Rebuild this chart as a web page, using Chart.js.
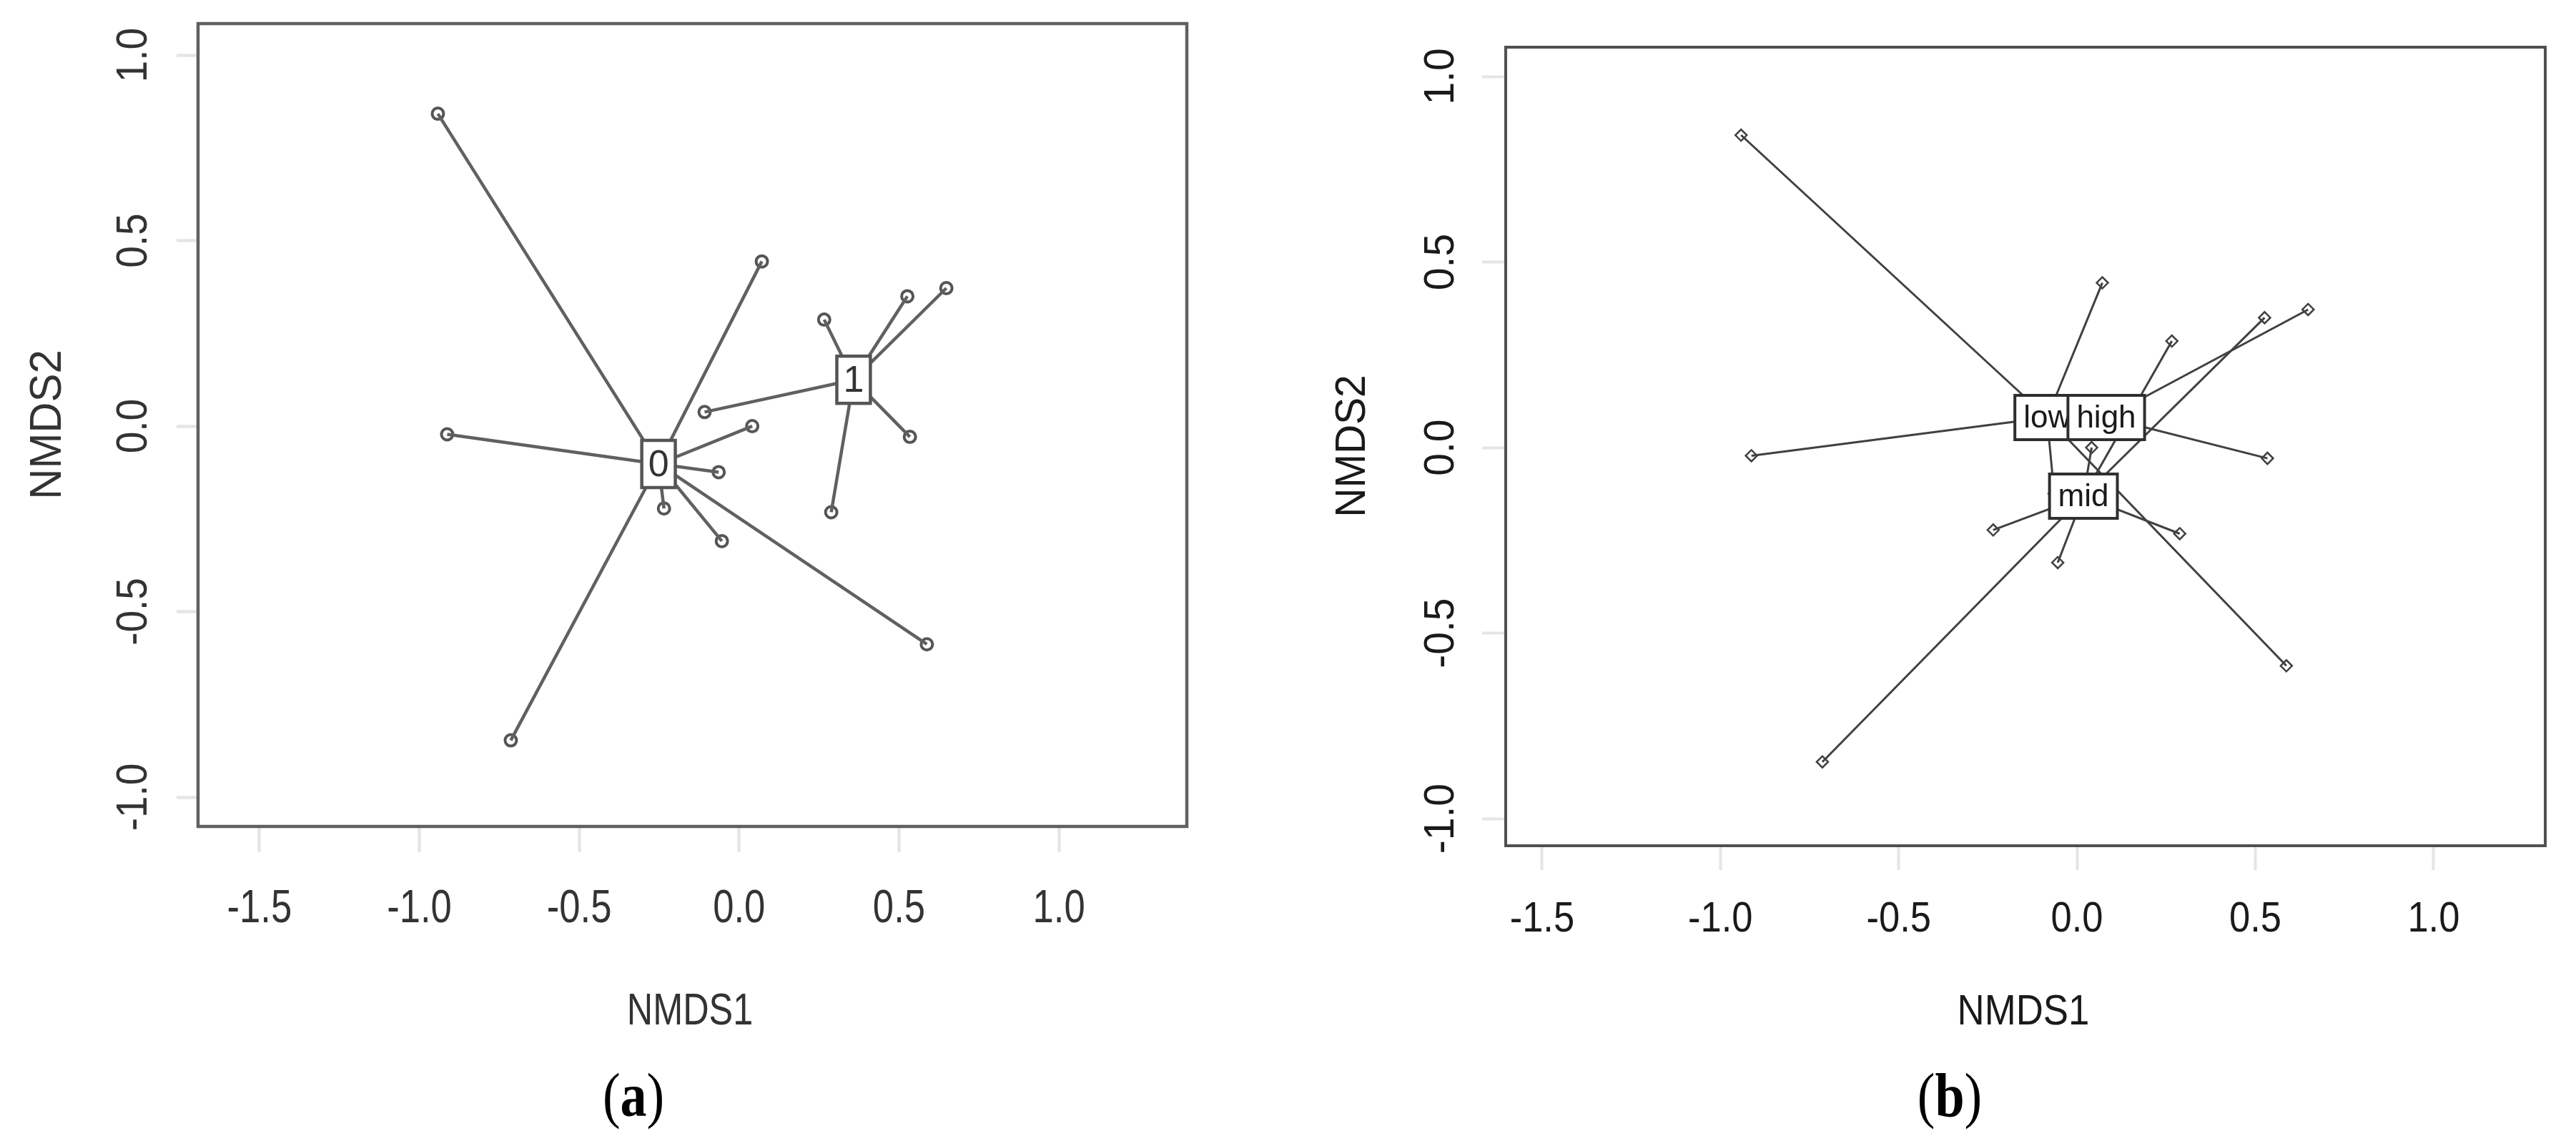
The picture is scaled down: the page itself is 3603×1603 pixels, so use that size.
<!DOCTYPE html>
<html>
<head>
<meta charset="utf-8">
<script src="https://cdn.jsdelivr.net/npm/chart.js@4.4.1/dist/chart.umd.min.js"></script>
<style>
  body { margin: 0; background: #fff; width: 3603px; height: 1603px; position: relative; overflow: hidden; }
  .panel { position: absolute; top: 0; height: 1603px; }
  #wrapA { left: 0; width: 1800px; }
  #wrapB { left: 1800px; width: 1803px; }
  .tag {
    position: absolute; font-family: 'Liberation Serif', 'Times New Roman', serif; font-size: 86px;
    color: #000; transform: translate(-50%, -50%) scaleX(0.86); white-space: nowrap; line-height: 1;
  }
</style>
</head>
<body>
<div class="panel" id="wrapA"><canvas id="chartA"></canvas></div>
<div class="panel" id="wrapB"><canvas id="chartB"></canvas></div>
<div class="tag" style="left:886px;top:1532px">(<b>a</b>)</div>
<div class="tag" style="left:2727px;top:1532px">(<b>b</b>)</div>
<script>
// NMDS site scores (same ordination in both panels)
const siteX = [-0.942, 0.071, -0.913, 0.041, -0.064, -0.235, -0.054, 0.587, -0.714, -0.108, 0.266, 0.526, 0.648, 0.534, 0.288];
const siteY = [0.842, 0.444, -0.022, 0.000, -0.124, -0.222, -0.310, -0.588, -0.847, 0.038, 0.287, 0.350, 0.372, -0.029, -0.232];

// panel (a): two groups
const groupA = ['0', '0', '0', '0', '0', '0', '0', '0', '0', '1', '1', '1', '1', '1', '1'];
const centLabelA = ['0', '1'];
const centXA = [-0.252, 0.358];
const centYA = [-0.102, 0.125];

// panel (b): three levels
const groupB = ['low', 'low', 'low', 'mid', 'low', 'mid', 'mid', 'low', 'mid', 'high', 'mid', 'mid', 'high', 'high', 'mid'];
const centLabelB = ['low', 'high', 'mid'];
const centXB = [-0.084, 0.082, 0.018];
const centYB = [0.081, 0.081, -0.131];

const xTicks = [-1.5, -1.0, -0.5, 0.0, 0.5, 1.0];
const yTicks = [-1.0, -0.5, 0.0, 0.5, 1.0];
const xTitle = 'NMDS1';
const yTitle = 'NMDS2';

const FONT = "'Liberation Sans', Arial, sans-serif";

// text drawn centred on (x, y); sx squeezes it along its reading direction
function putText(ctx, str, x, y, size, sx, rotated) {
  ctx.save();
  ctx.translate(x, y);
  if (rotated) ctx.rotate(-Math.PI / 2);
  ctx.scale(sx, 1);
  ctx.font = size + 'px ' + FONT;
  ctx.textAlign = 'center';
  ctx.textBaseline = 'alphabetic';
  ctx.fillText(str, 0, 0.358 * size);
  ctx.restore();
}

// frame, tick labels, axis titles and centroid label boxes
const spiderDecor = {
  id: 'spiderDecor',
  afterDatasetsDraw(chart, args, o) {
    const ctx = chart.ctx;
    const xs = chart.scales.x, ys = chart.scales.y;
    ctx.save();
    ctx.font = o.boxFont + 'px ' + FONT;
    o.labels.forEach((lab, k) => {
      const px = xs.getPixelForValue(o.cx[k]);
      const py = ys.getPixelForValue(o.cy[k]);
      const w = ctx.measureText(lab).width + 2 * o.boxPadX;
      const h = o.boxH;
      ctx.fillStyle = '#fff';
      ctx.fillRect(px - w / 2, py - h / 2, w, h);
      ctx.strokeStyle = o.boxColor;
      ctx.lineWidth = o.boxLine;
      ctx.strokeRect(px - w / 2, py - h / 2, w, h);
      ctx.fillStyle = o.textColor;
      putText(ctx, lab, px, py - 2, o.boxFont, 1, false);
    });
    ctx.restore();
  },
  afterDraw(chart, args, o) {
    const ctx = chart.ctx;
    const a = chart.chartArea;
    const xs = chart.scales.x, ys = chart.scales.y;
    ctx.save();
    ctx.strokeStyle = o.axisColor;
    ctx.lineWidth = o.frameLine;
    ctx.strokeRect(a.left, a.top, a.right - a.left, a.bottom - a.top);

    ctx.fillStyle = o.textColor;
    xTicks.forEach(v => {
      putText(ctx, v.toFixed(1), xs.getPixelForValue(v), o.xLabelY, o.xTickFont, o.xTickSx, false);
    });
    yTicks.forEach(v => {
      putText(ctx, v.toFixed(1), o.yLabelX, ys.getPixelForValue(v), o.yTickFont, o.yTickSx, true);
    });
    putText(ctx, xTitle, o.xTitlePos[0], o.xTitlePos[1], o.titleFont, o.xTitleSx, false);
    putText(ctx, yTitle, o.yTitlePos[0], o.yTitlePos[1], o.titleFont, o.yTitleSx, true);
    ctx.restore();
  }
};

function spiderPlot(p) {
  const canvas = document.getElementById(p.canvas);
  canvas.width = p.w;
  canvas.height = p.h;

  const spokes = siteX.map((x, i) => {
    const k = p.labels.indexOf(p.groups[i]);
    return {
      data: [{ x: x, y: siteY[i] }, { x: p.cx[k], y: p.cy[k] }],
      showLine: true,
      pointRadius: 0,
      borderColor: p.lineColor,
      borderWidth: p.lineWidth,
      order: 1
    };
  });

  const sites = {
    data: siteX.map((x, i) => ({ x: x, y: siteY[i] })),
    showLine: false,
    pointStyle: p.pch,
    pointRadius: p.ptRadius,
    pointBorderWidth: p.ptLine,
    pointBorderColor: p.ptColor,
    pointBackgroundColor: 'rgba(0,0,0,0)',
    order: 2
  };

  const tickGrid = len => ({
    display: true, drawOnChartArea: false, drawTicks: true,
    tickLength: len, tickWidth: p.tickWidth, tickColor: p.axisColor
  });

  return new Chart(canvas.getContext('2d'), {
    type: 'scatter',
    data: { datasets: [sites].concat(spokes) },
    options: {
      responsive: false,
      animation: false,
      devicePixelRatio: 1,
      layout: { padding: { left: 0, top: p.area.top, right: p.w - p.area.right, bottom: 0 } },
      plugins: {
        legend: { display: false },
        tooltip: { enabled: false },
        spiderDecor: p.decor
      },
      scales: {
        x: {
          type: 'linear',
          position: 'bottom',
          min: p.xRange[0],
          max: p.xRange[1],
          afterBuildTicks: s => { s.ticks = xTicks.map(v => ({ value: v })); },
          afterFit: s => { s.height = p.h - p.area.bottom; },
          border: { display: false },
          grid: tickGrid(p.xTickLen),
          ticks: { display: false }
        },
        y: {
          type: 'linear',
          min: p.yRange[0],
          max: p.yRange[1],
          afterBuildTicks: s => { s.ticks = yTicks.map(v => ({ value: v })); },
          afterFit: s => { s.width = p.area.left; },
          border: { display: false },
          grid: tickGrid(p.yTickLen),
          ticks: { display: false }
        }
      }
    },
    plugins: [spiderDecor]
  });
}

spiderPlot({
  canvas: 'chartA', w: 1800, h: 1603,
  area: { left: 277, right: 1660, top: 33, bottom: 1156 },
  xRange: [-1.692, 1.40], yRange: [-1.079, 1.085],
  lineColor: '#606060', lineWidth: 4.5,
  pch: 'circle', ptRadius: 8, ptLine: 4, ptColor: '#555555',
  tickWidth: 4.5, xTickLen: 36, yTickLen: 30,
  decor: {
    labels: centLabelA, cx: centXA, cy: centYA,
    boxFont: 52, boxPadX: 9, boxH: 66, boxColor: '#555555', boxLine: 4.5,
    textColor: '#333333', axisColor: '#606060', frameLine: 4.5,
    xTickFont: 65, xTickSx: 0.81, xLabelY: 1267,
    yTickFont: 61, yTickSx: 0.9, yLabelX: 183,
    titleFont: 63, xTitleSx: 0.8, yTitleSx: 0.95,
    xTitlePos: [965, 1410], yTitlePos: [62, 594]
  },
  groups: groupA, labels: centLabelA, cx: centXA, cy: centYA
});

spiderPlot({
  canvas: 'chartB', w: 1803, h: 1603,
  area: { left: 306, right: 1760, top: 66, bottom: 1183 },
  xRange: [-1.602, 1.313], yRange: [-1.073, 1.079],
  lineColor: '#404040', lineWidth: 3,
  pch: 'rectRot', ptRadius: 8, ptLine: 2.5, ptColor: '#404040',
  tickWidth: 4, xTickLen: 34, yTickLen: 33,
  decor: {
    labels: centLabelB, cx: centXB, cy: centYB,
    boxFont: 44, boxPadX: 12, boxH: 62, boxColor: '#2e2e2e', boxLine: 4,
    textColor: '#1a1a1a', axisColor: '#505050', frameLine: 4,
    xTickFont: 60, xTickSx: 0.875, xLabelY: 1282,
    yTickFont: 60, yTickSx: 0.95, yLabelX: 212,
    titleFont: 60, xTitleSx: 0.88, yTitleSx: 0.95,
    xTitlePos: [1030, 1412], yTitlePos: [88, 624]
  },
  groups: groupB, labels: centLabelB, cx: centXB, cy: centYB
});
</script>
</body>
</html>
